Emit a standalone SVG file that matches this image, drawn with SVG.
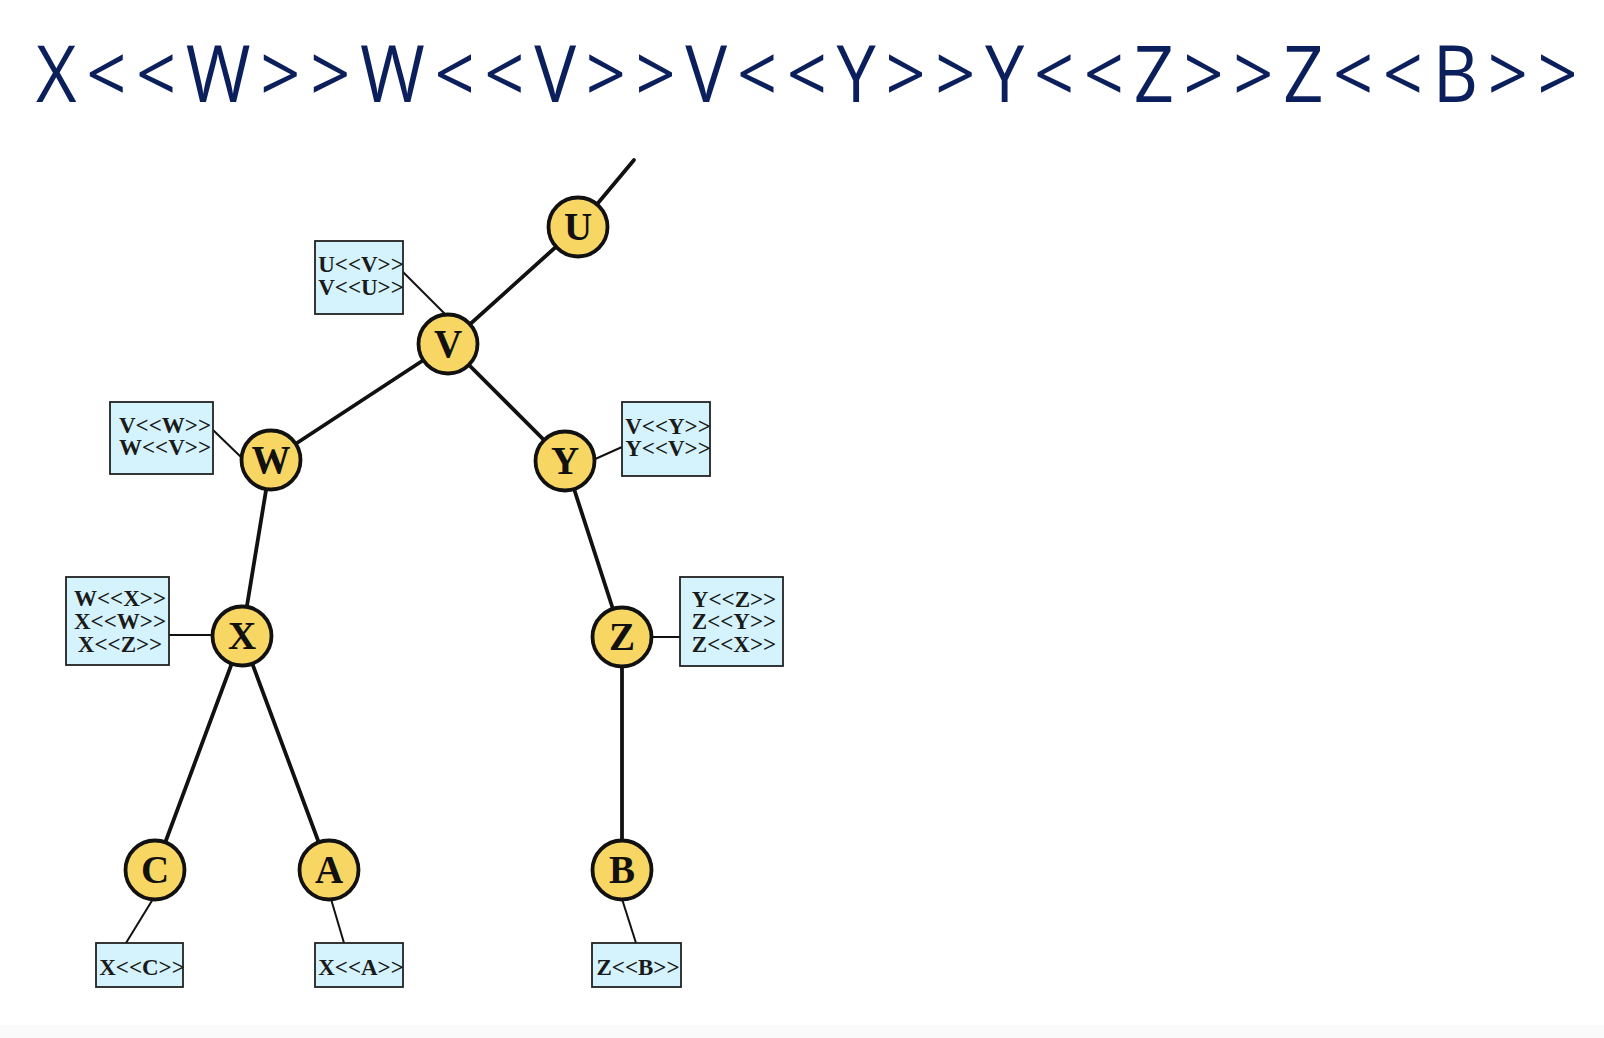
<svg xmlns="http://www.w3.org/2000/svg" width="1604" height="1038" viewBox="0 0 1604 1038">
  <style>
    .title { font-family: "Open Sans", "Noto Sans", "Liberation Sans", sans-serif; font-size: 78px; fill: #0b1f5c; }
    .edge { stroke: #111; stroke-width: 3.8; stroke-linecap: round; fill: none; }
    .link { stroke: #111; stroke-width: 2; fill: none; }
    .node circle { fill: #f8d663; stroke: #111; stroke-width: 3.8; }
    .node text { font-family: "Liberation Serif", "Times New Roman", serif; font-weight: bold; font-size: 39px; fill: #111; text-anchor: middle; }
    .label rect { fill: #d5f3fc; stroke: #222; stroke-width: 1.8; }
    .label text { font-family: "Liberation Serif", "Times New Roman", serif; font-weight: bold; font-size: 23px; fill: #1a1a1a; text-anchor: middle; }
  </style>

  <rect x="0" y="0" width="1604" height="1038" fill="#ffffff"/>
  <rect x="0" y="1025" width="1604" height="13" fill="#fafafa"/>

  <!-- heading, narrowed horizontally -->
  <text class="title" transform="scale(0.9 1)" x="40" y="102" textLength="1713" lengthAdjust="spacing">X&lt;&lt;W&gt;&gt;W&lt;&lt;V&gt;&gt;V&lt;&lt;Y&gt;&gt;Y&lt;&lt;Z&gt;&gt;Z&lt;&lt;B&gt;&gt;</text>

  <!-- connectors: tree edges and label leaders -->
  <g id="connectors">
    <line class="edge" x1="578" y1="227" x2="634" y2="160"/>
    <line class="edge" x1="578" y1="227" x2="448" y2="344"/>
    <line class="edge" x1="448" y1="344" x2="271" y2="460"/>
    <line class="edge" x1="448" y1="344" x2="565" y2="461"/>
    <line class="edge" x1="271" y1="460" x2="242" y2="636"/>
    <line class="edge" x1="565" y1="461" x2="622" y2="637"/>
    <line class="edge" x1="242" y1="636" x2="155" y2="870"/>
    <line class="edge" x1="242" y1="636" x2="329" y2="870"/>
    <line class="edge" x1="622" y1="637" x2="622" y2="870"/>

    <line class="link" x1="403" y1="272" x2="446" y2="315"/>
    <line class="link" x1="213" y1="430" x2="243" y2="459"/>
    <line class="link" x1="593" y1="460" x2="622" y2="447"/>
    <line class="link" x1="169" y1="635" x2="212" y2="635"/>
    <line class="link" x1="652" y1="637" x2="680" y2="637"/>
    <line class="link" x1="153" y1="899" x2="126" y2="943"/>
    <line class="link" x1="331" y1="899" x2="344" y2="943"/>
    <line class="link" x1="622" y1="899" x2="636" y2="943"/>
  </g>

  <!-- tree nodes -->
  <g id="node-U" class="node"><circle cx="578" cy="227" r="29.5"/><text x="578" y="240">U</text></g>
  <g id="node-V" class="node"><circle cx="448" cy="344" r="29.5"/><text x="448" y="357">V</text></g>
  <g id="node-W" class="node"><circle cx="271" cy="460" r="29.5"/><text x="271" y="473">W</text></g>
  <g id="node-Y" class="node"><circle cx="565" cy="461" r="29.5"/><text x="565" y="474">Y</text></g>
  <g id="node-X" class="node"><circle cx="242" cy="636" r="29.5"/><text x="242" y="649">X</text></g>
  <g id="node-Z" class="node"><circle cx="622" cy="637" r="29.5"/><text x="622" y="650">Z</text></g>
  <g id="node-C" class="node"><circle cx="155" cy="870" r="29.5"/><text x="155" y="883">C</text></g>
  <g id="node-A" class="node"><circle cx="329" cy="870" r="29.5"/><text x="329" y="883">A</text></g>
  <g id="node-B" class="node"><circle cx="622" cy="870" r="29.5"/><text x="622" y="883">B</text></g>

  <!-- anchor labels -->
  <g id="label-V" class="label">
    <rect x="315" y="241" width="88" height="73"/>
    <text x="361" y="272">U&lt;&lt;V&gt;&gt;</text>
    <text x="361" y="295">V&lt;&lt;U&gt;&gt;</text>
  </g>
  <g id="label-W" class="label">
    <rect x="110" y="402" width="103" height="72"/>
    <text x="165" y="433">V&lt;&lt;W&gt;&gt;</text>
    <text x="165" y="455">W&lt;&lt;V&gt;&gt;</text>
  </g>
  <g id="label-Y" class="label">
    <rect x="622" y="402" width="88" height="74"/>
    <text x="668" y="434">V&lt;&lt;Y&gt;&gt;</text>
    <text x="668" y="456">Y&lt;&lt;V&gt;&gt;</text>
  </g>
  <g id="label-X" class="label">
    <rect x="66" y="577" width="103" height="88"/>
    <text x="120" y="606">W&lt;&lt;X&gt;&gt;</text>
    <text x="120" y="629">X&lt;&lt;W&gt;&gt;</text>
    <text x="120" y="652">X&lt;&lt;Z&gt;&gt;</text>
  </g>
  <g id="label-Z" class="label">
    <rect x="680" y="577" width="103" height="89"/>
    <text x="734" y="607">Y&lt;&lt;Z&gt;&gt;</text>
    <text x="734" y="629">Z&lt;&lt;Y&gt;&gt;</text>
    <text x="734" y="652">Z&lt;&lt;X&gt;&gt;</text>
  </g>
  <g id="label-C" class="label">
    <rect x="96" y="943" width="87" height="44"/>
    <text x="142" y="975">X&lt;&lt;C&gt;&gt;</text>
  </g>
  <g id="label-A" class="label">
    <rect x="315" y="943" width="88" height="44"/>
    <text x="361" y="975">X&lt;&lt;A&gt;&gt;</text>
  </g>
  <g id="label-B" class="label">
    <rect x="592" y="943" width="89" height="44"/>
    <text x="638" y="975">Z&lt;&lt;B&gt;&gt;</text>
  </g>
</svg>
